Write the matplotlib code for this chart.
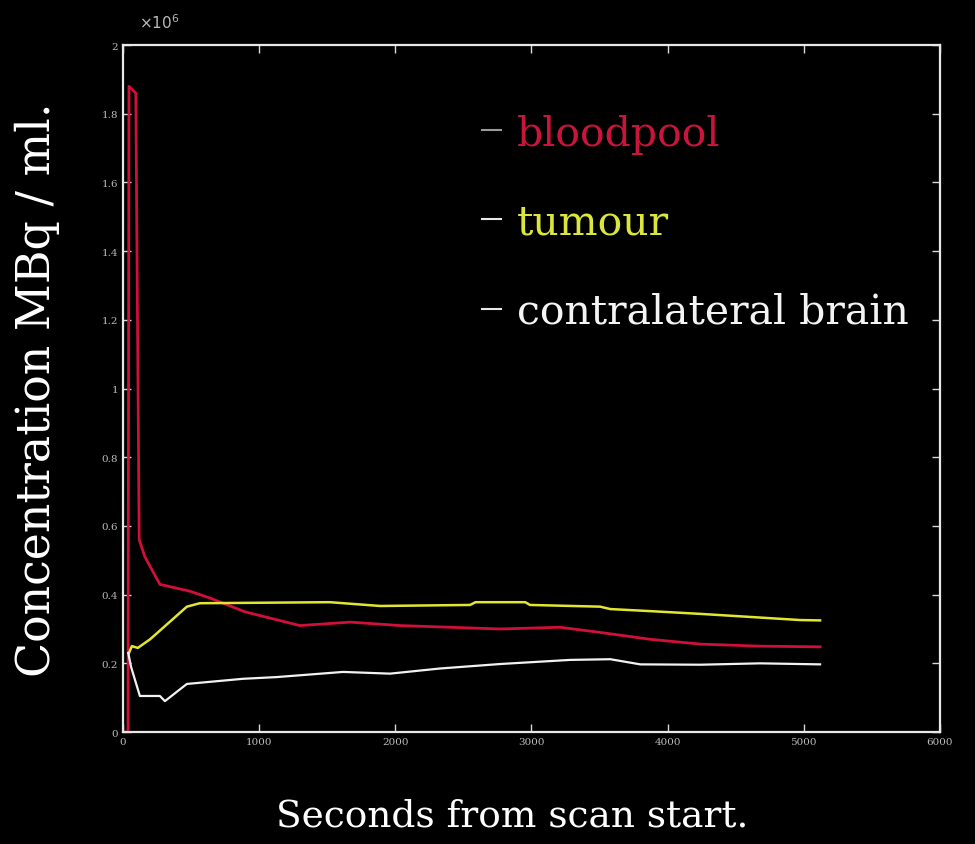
"""Time-activity curves from a dynamic PET scan."""

import matplotlib.pyplot as plt
from matplotlib.lines import Line2D
from matplotlib.ticker import FormatStrFormatter

# seconds from scan start / concentration (x 10^6)
blood_t = [0, 38, 45, 95, 120, 162, 272, 492, 640, 897, 1300, 1670, 2035,
           2770, 3210, 3505, 3873, 4240, 4680, 5120]
blood_c = [0.0, 0.0, 1.88, 1.86, 0.56, 0.51, 0.43, 0.41, 0.39, 0.35, 0.31,
           0.32, 0.31, 0.30, 0.305, 0.29, 0.27, 0.256, 0.25, 0.248]

tumour_t = [45, 66, 110, 200, 470, 565, 1520, 1890, 2550, 2590, 2955, 2990,
            3505, 3580, 3873, 4240, 4610, 4975, 5120]
tumour_c = [0.23, 0.25, 0.245, 0.27, 0.365, 0.375, 0.378, 0.367, 0.37, 0.378,
            0.378, 0.37, 0.365, 0.358, 0.352, 0.344, 0.335, 0.326, 0.325]

brain_t = [40, 60, 125, 272, 309, 470, 882, 1130, 1617, 1962, 2330, 2770,
           3285, 3580, 3800, 4240, 4680, 5120]
brain_c = [0.23, 0.19, 0.105, 0.105, 0.09, 0.14, 0.155, 0.16, 0.175, 0.17,
           0.185, 0.198, 0.21, 0.212, 0.197, 0.196, 0.2, 0.197]

x_ticks = [0, 1000, 2000, 3000, 4000, 5000, 6000]
y_ticks = [0, 0.2, 0.4, 0.6, 0.8, 1.0, 1.2, 1.4, 1.6, 1.8, 2.0]

labels = ["bloodpool", "tumour", "contralateral brain"]
colors = ["#d0103a", "#e2e630", "#f2f2f2"]
text_colors = ["#c8153c", "#dbe63a", "#f4f4f4"]
dash_colors = ["#9a9a9a", "#e8e8e8", "#e8e8e8"]

SERIF = ["DejaVu Serif"]


def main():
    plt.rcParams["font.family"] = SERIF
    fig = plt.figure(figsize=(9.75, 8.45), dpi=100, facecolor="black")
    ax = fig.add_axes([0.126, 0.1325, 0.838, 0.813])
    ax.set_facecolor("black")

    ax.plot(blood_t, blood_c, color=colors[0], lw=2.0)
    ax.plot(tumour_t, tumour_c, color=colors[1], lw=1.8)
    ax.plot(brain_t, brain_c, color=colors[2], lw=1.6)

    ax.set_xlim(0, 6000)
    ax.set_ylim(0, 2.0)
    ax.set_xticks(x_ticks)
    ax.set_yticks(y_ticks)
    ax.yaxis.set_major_formatter(FormatStrFormatter("%g"))

    for side in ax.spines.values():
        side.set_color("#e8e8e8")
        side.set_linewidth(1.6)
    ax.tick_params(direction="in", top=True, right=True, length=6, width=1,
                   colors="#d8d8d8", labelsize=7.5, labelcolor="#bbbbbb")

    ax.text(0.02, 1.02, r"$\times10^{6}$", transform=ax.transAxes,
            color="#bbbbbb", fontsize=11, va="bottom", ha="left")

    ax.set_xlabel("Seconds from scan start.", color="white", fontsize=27)
    ax.xaxis.set_label_coords(0.476, -0.096)
    ax.set_ylabel("Concentration MBq / ml.", color="white", fontsize=33,
                  labelpad=30)

    handles = [Line2D([], [], color=c, lw=1.5) for c in dash_colors]
    leg = ax.legend(handles, labels, loc="upper left",
                    bbox_to_anchor=(0.415, 0.93), frameon=False, fontsize=29.5,
                    handlelength=0.45, handletextpad=0.4, labelspacing=1.2,
                    borderpad=0)
    for txt, c in zip(leg.get_texts(), text_colors):
        txt.set_color(c)

    fig.savefig("out.png", dpi=100, facecolor="black")


if __name__ == "__main__":
    main()
